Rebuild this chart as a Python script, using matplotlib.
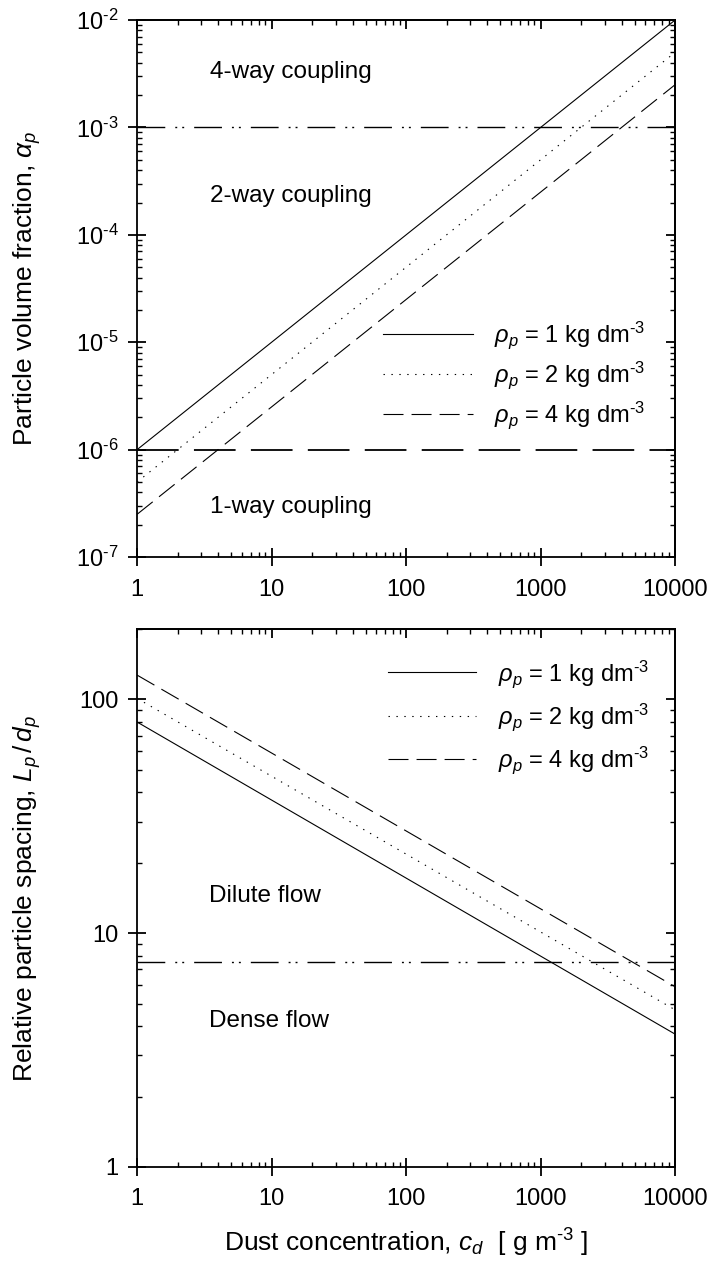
import numpy as np
import matplotlib
matplotlib.use("Agg")
import matplotlib.pyplot as plt
from matplotlib.ticker import FixedLocator, FixedFormatter, LogLocator, NullFormatter

plt.rcParams['font.family'] = ['Liberation Sans', 'DejaVu Sans']
plt.rcParams['mathtext.fontset'] = 'custom'
plt.rcParams['mathtext.rm'] = 'Liberation Sans'
plt.rcParams['mathtext.it'] = 'Liberation Sans:italic'
plt.rcParams['mathtext.bf'] = 'Liberation Sans:bold'
plt.rcParams['lines.scale_dashes'] = False

# data
conc = [1, 10000]                         # g m^-3
alpha_rho1 = [1e-6, 1e-2]
alpha_rho2 = [5e-7, 5e-3]
alpha_rho4 = [2.5e-7, 2.5e-3]
spacing_rho1 = [80, 3.7]
spacing_rho2 = [101, 4.7]
spacing_rho4 = [127, 5.9]
limit_4way = 1e-3
limit_1way = 1e-6
limit_dense = 7.5

labels = [r"$\rho_p$ = 1 kg dm$^{\text{-}3}$",
          r"$\rho_p$ = 2 kg dm$^{\text{-}3}$",
          r"$\rho_p$ = 4 kg dm$^{\text{-}3}$"]
x_ticks = [1, 10, 100, 1000, 10000]
x_ticklabels = ["1", "10", "100", "1000", "10000"]
alpha_ticks = [1e-7, 1e-6, 1e-5, 1e-4, 1e-3, 1e-2]
alpha_ticklabels = [r"$10^{\text{-}7}$", r"$10^{\text{-}6}$", r"$10^{\text{-}5}$",
                    r"$10^{\text{-}4}$", r"$10^{\text{-}3}$", r"$10^{\text{-}2}$"]
spacing_ticks = [1, 10, 100]
spacing_ticklabels = ["1", "10", "100"]

fig = plt.figure(figsize=(7.14, 12.62), dpi=100)
ax1 = fig.add_axes([0.192, 0.5586, 0.7535, 0.4255])
ax2 = fig.add_axes([0.192, 0.0753, 0.7535, 0.4263])

styles = [dict(ls='-'), dict(dashes=(1.0, 4.7)), dict(dashes=(14.4, 5.8))]
lw = 0.8
tick_fs = 17
lab_fs = 19
txt_fs = 17.5
dashdotdot = (20, 7.2, 1.4, 3.6, 1.4, 7.2)


def minor_loc():
    return LogLocator(base=10, subs=np.arange(2, 10), numticks=20)


def style_axis(ax, yticks):
    ax.set_xscale('log')
    ax.set_yscale('log')
    ax.set_xlim(1, 10000)
    for s in ax.spines.values():
        s.set_linewidth(1.3)
    ax.xaxis.set_major_locator(FixedLocator(x_ticks))
    ax.xaxis.set_major_formatter(FixedFormatter(x_ticklabels))
    ax.xaxis.set_minor_locator(minor_loc())
    ax.yaxis.set_minor_locator(minor_loc())
    ax.xaxis.set_minor_formatter(NullFormatter())
    ax.yaxis.set_minor_formatter(NullFormatter())
    ax.tick_params(which='major', direction='inout', length=13, width=1.3,
                   labelsize=tick_fs, pad=7)
    ax.tick_params(which='minor', direction='in', length=3.5, width=1.0)
    ax.tick_params(axis='x', which='major', pad=9)

    # inward-only ticks on the top and right edges
    top = ax.secondary_xaxis('top')
    top.xaxis.set_major_locator(FixedLocator(x_ticks))
    top.xaxis.set_minor_locator(minor_loc())
    right = ax.secondary_yaxis('right')
    right.yaxis.set_major_locator(FixedLocator(yticks))
    right.yaxis.set_minor_locator(minor_loc())
    for sec in (top, right):
        sec.tick_params(which='major', direction='in', length=6.5, width=1.3,
                        labeltop=False, labelright=False)
        sec.tick_params(which='minor', direction='in', length=3.5, width=1.0)
        for s in sec.spines.values():
            s.set_linewidth(1.3)


# top panel: particle volume fraction
for y, lab, st in zip([alpha_rho1, alpha_rho2, alpha_rho4], labels, styles):
    ax1.plot(conc, y, color='black', lw=lw, label=lab, **st)
ax1.axhline(limit_4way, color='black', lw=1.0, dashes=dashdotdot)
ax1.axhline(limit_1way, color='black', lw=1.3, dashes=(30, 11))
ax1.set_ylim(1e-7, 1e-2)
style_axis(ax1, alpha_ticks)
ax1.yaxis.set_major_locator(FixedLocator(alpha_ticks))
ax1.yaxis.set_major_formatter(FixedFormatter(alpha_ticklabels))
ax1.set_ylabel(r"Particle volume fraction, $\alpha_p$", fontsize=lab_fs)
ax1.yaxis.set_label_coords(-0.175, 0.5)
ax1.text(3.5, 3.3e-3, "4-way coupling", fontsize=txt_fs, va='center')
ax1.text(3.5, 2.3e-4, "2-way coupling", fontsize=txt_fs, va='center')
ax1.text(3.5, 2.9e-7, "1-way coupling", fontsize=txt_fs, va='center')
ax1.legend(loc='center left', bbox_to_anchor=(0.457, 0.338), frameon=False,
           fontsize=tick_fs, handlelength=3.8, handletextpad=0.9,
           labelspacing=0.35, borderpad=0, borderaxespad=0)

# bottom panel: relative particle spacing
for y, lab, st in zip([spacing_rho1, spacing_rho2, spacing_rho4], labels, styles):
    ax2.plot(conc, y, color='black', lw=lw, label=lab, **st)
ax2.axhline(limit_dense, color='black', lw=1.0, dashes=dashdotdot)
ax2.set_ylim(1, 200)
style_axis(ax2, spacing_ticks)
ax2.yaxis.set_major_locator(FixedLocator(spacing_ticks))
ax2.yaxis.set_major_formatter(FixedFormatter(spacing_ticklabels))
ax2.set_ylabel(r"Relative particle spacing, $L_p\,/\,d_p$", fontsize=lab_fs)
ax2.yaxis.set_label_coords(-0.175, 0.5)
ax2.set_xlabel(r"Dust concentration, $c_d$  [ g m$^{\text{-}3}$ ]", fontsize=lab_fs, labelpad=12)
ax2.text(3.4, 14.4, "Dilute flow", fontsize=txt_fs, va='center')
ax2.text(3.4, 4.2, "Dense flow", fontsize=txt_fs, va='center')
ax2.legend(loc='center left', bbox_to_anchor=(0.467, 0.836), frameon=False,
           fontsize=tick_fs, handlelength=3.7, handletextpad=0.95,
           labelspacing=0.5, borderpad=0, borderaxespad=0)

fig.savefig("out.png", dpi=100)
